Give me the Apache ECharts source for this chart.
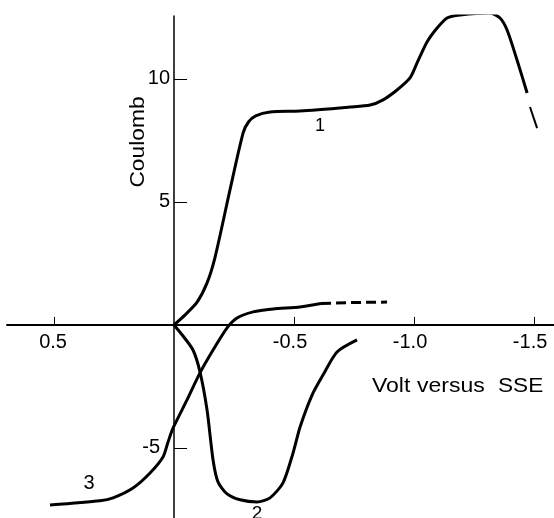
<!DOCTYPE html>
<html><head><meta charset="utf-8">
<script src="https://cdn.jsdelivr.net/npm/echarts@6/dist/echarts.min.js"></script>
<style>html,body{margin:0;padding:0;background:#fff}#c{width:554px;height:518px}</style>
</head><body><div id="c"></div>
<script>
// Curve 1 (main)
const curve1X = [0, -0.046, -0.096, -0.1375, -0.171, -0.233, -0.2875, -0.31, -0.34, -0.4, -0.525, -0.733, -0.817, -0.871, -0.929, -0.983, -1.0125, -1.054, -1.096, -1.1375, -1.192, -1.317, -1.358, -1.3875, -1.429, -1.471];
const curve1Y = [0, 0.41, 0.93, 1.71, 2.76, 5.49, 7.8, 8.25, 8.5, 8.66, 8.70, 8.86, 8.94, 9.15, 9.55, 10.04, 10.65, 11.5, 12.07, 12.48, 12.6, 12.68, 12.48, 11.99, 10.77, 9.43];
// Curve 1 tail
const curve1TailX = [-1.483, -1.5125];
const curve1TailY = [8.86, 8.0];
// Curve 2
const curve2X = [0, -0.0375, -0.079, -0.108, -0.1375, -0.1625, -0.183, -0.221, -0.275, -0.346, -0.4, -0.454, -0.496, -0.525, -0.575, -0.621, -0.679, -0.7625];
const curve2Y = [0, -0.45, -1.02, -1.91, -3.46, -5.49, -6.38, -6.87, -7.11, -7.2, -7.03, -6.42, -5.2, -4.15, -2.85, -2.03, -1.1, -0.61];
// Curve 3 (solid part)
const curve3X = [0.517, 0.308, 0.254, 0.171, 0.1, 0.046, 0.025, 0.004, -0.054, -0.108, -0.1625, -0.221, -0.2625, -0.329, -0.4125, -0.525, -0.6125];
const curve3Y = [-7.32, -7.15, -7.03, -6.63, -6.02, -5.37, -4.76, -4.19, -3.05, -1.95, -1.02, -0.12, 0.28, 0.53, 0.65, 0.73, 0.87];
// Curve 3 (dashed extension)
const curve3DashX = [-0.6125, -0.733, -0.8875];
const curve3DashY = [0.87, 0.91, 0.93];
// Tick values / labels
const xTickValues = [0.5, -0.5, -1.0, -1.5];
const xTickLabels = ['0.5', '-0.5', '-1.0', '-1.5'];
const yTickValues = [10, 5, -5];
const yTickLabels = ['10', '5', '-5'];

const zip = (xs, ys) => xs.map((x, i) => [x, ys[i]]);
const FONT = 'Liberation Sans';
const lineBase = { type: 'line', symbol: 'none', smooth: 0.25, lineStyle: { color: '#000', width: 3 }, silent: true, animation: false };

const chart = echarts.init(document.getElementById('c'));
chart.setOption({
  animation: false,
  grid: { left: 7, right: 0, top: 16, bottom: 0, containLabel: false, outerBoundsMode: 'none' },
  xAxis: {
    type: 'value', inverse: true, min: -1.583, max: 0.696,
    axisLine: { onZero: true, lineStyle: { color: '#000', width: 2 } },
    axisTick: { show: true, inside: true, length: 8, customValues: xTickValues, lineStyle: { color: '#000', width: 1 } },
    axisLabel: { show: false },
    splitLine: { show: false }
  },
  yAxis: {
    type: 'value', min: -7.85, max: 12.56,
    axisLine: { onZero: true, lineStyle: { color: '#000', width: 1.5 } },
    axisTick: { show: true, inside: true, length: 13, customValues: yTickValues, lineStyle: { color: '#000', width: 1 } },
    axisLabel: { show: false },
    splitLine: { show: false }
  },
  series: [
    Object.assign({}, lineBase, { data: zip(curve1X, curve1Y) }),
    Object.assign({}, lineBase, { smooth: false, lineStyle: { color: '#000', width: 2 }, data: zip(curve1TailX, curve1TailY) }),
    Object.assign({}, lineBase, { data: zip(curve2X, curve2Y) }),
    Object.assign({}, lineBase, { data: zip(curve3X, curve3Y) }),
    Object.assign({}, lineBase, { smooth: false, lineStyle: { color: '#000', width: 3, type: [10, 5] }, data: zip(curve3DashX, curve3DashY) })
  ]
});

// Tick labels placed next to the axes using the chart's own scales
const graphics = [];
xTickValues.forEach((v, i) => {
  const p = chart.convertToPixel({ gridIndex: 0 }, [v, 0]);
  graphics.push({ type: 'text', x: p[0] - (xTickLabels[i].startsWith('-') ? 4 : 1), y: p[1] + 8,
    style: { text: xTickLabels[i], fontSize: 20, fontFamily: FONT, fill: '#000', align: 'center', verticalAlign: 'top' } });
});
yTickValues.forEach((v, i) => {
  const p = chart.convertToPixel({ gridIndex: 0 }, [0, v]);
  graphics.push({ type: 'text', x: p[0] - (v < 0 ? 14 : 4), y: p[1],
    style: { text: yTickLabels[i], fontSize: 20, fontFamily: FONT, fill: '#000', align: 'right', verticalAlign: 'middle' } });
});
const txt = (text, x, y, size, extra) => Object.assign({ type: 'text', x: x, y: y,
  style: { text: text, fontSize: size, fontFamily: FONT, fill: '#000', align: 'left', verticalAlign: 'middle' } }, extra || {});
graphics.push(
  { type: 'text', x: 138, y: 142, rotation: Math.PI / 2, scaleX: 1.14,
    style: { text: 'Coulomb', fontSize: 20, fontFamily: FONT, fill: '#000', align: 'center', verticalAlign: 'middle' } },
  txt('Volt', 372, 386, 20, { scaleX: 1.15 }),
  txt('versus', 417, 386, 20, { scaleX: 1.15 }),
  txt('SSE', 498, 386, 20, { scaleX: 1.13 }),
  { type: 'text', x: 320, y: 126, style: { text: '1', fontSize: 18, fontFamily: FONT, fill: '#000', align: 'center', verticalAlign: 'middle' } },
  { type: 'text', x: 257, y: 514, style: { text: '2', fontSize: 19, fontFamily: FONT, fill: '#000', align: 'center', verticalAlign: 'middle' } },
  { type: 'text', x: 89, y: 483, style: { text: '3', fontSize: 20, fontFamily: FONT, fill: '#000', align: 'center', verticalAlign: 'middle' } }
);
chart.setOption({ graphic: graphics });
</script></body></html>
